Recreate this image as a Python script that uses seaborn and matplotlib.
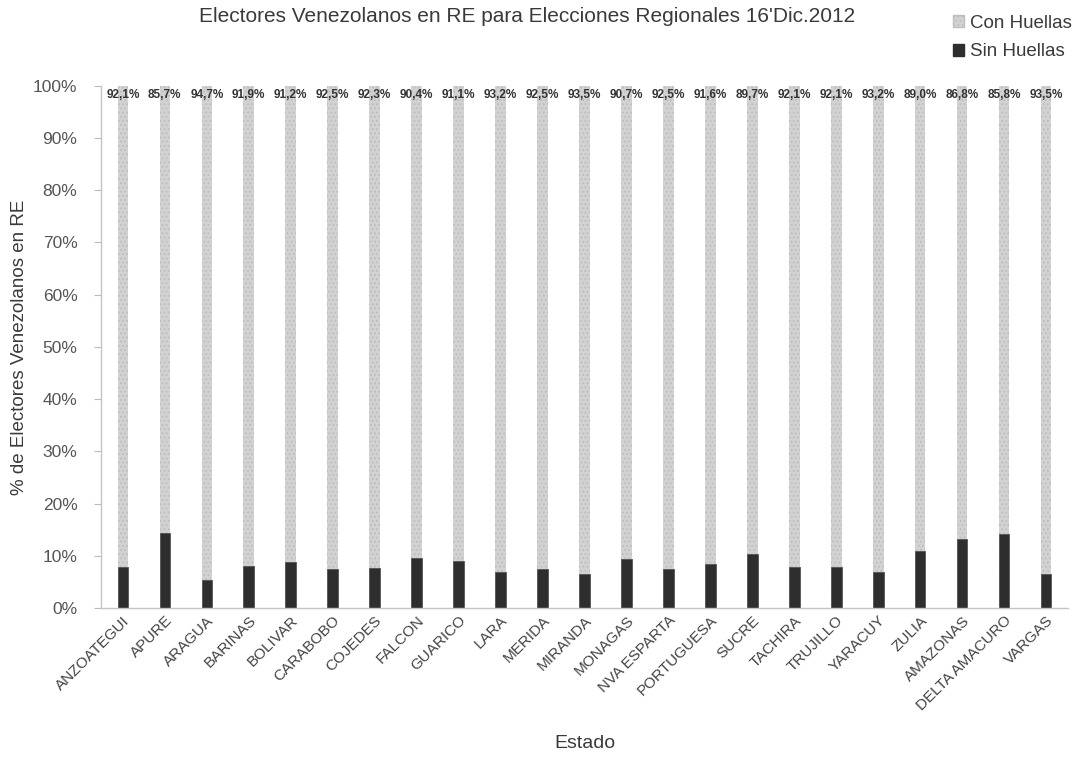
import matplotlib
matplotlib.use("Agg")
import matplotlib.pyplot as plt
import seaborn as sns
import pandas as pd
from matplotlib.patches import Patch
from matplotlib.ticker import PercentFormatter

estados = ["ANZOATEGUI", "APURE", "ARAGUA", "BARINAS", "BOLIVAR", "CARABOBO",
           "COJEDES", "FALCON", "GUARICO", "LARA", "MERIDA", "MIRANDA",
           "MONAGAS", "NVA ESPARTA", "PORTUGUESA", "SUCRE", "TACHIRA",
           "TRUJILLO", "YARACUY", "ZULIA", "AMAZONAS", "DELTA AMACURO", "VARGAS"]
con_huellas = [92.1, 85.7, 94.7, 91.9, 91.2, 92.5, 92.3, 90.4, 91.1, 93.2, 92.5, 93.5,
               90.7, 92.5, 91.6, 89.7, 92.1, 92.1, 93.2, 89.0, 86.8, 85.8, 93.5]
sin_huellas = [7.9, 14.3, 5.3, 8.1, 8.8, 7.5, 7.7, 9.6, 8.9, 6.8, 7.5, 6.5,
               9.3, 7.5, 8.4, 10.3, 7.9, 7.9, 6.8, 11.0, 13.2, 14.2, 6.5]

df = pd.DataFrame({"Estado": estados, "Con": con_huellas, "Sin": sin_huellas})
df["Total"] = df["Con"] + df["Sin"]

sns.set_style("white")
plt.rcParams["font.family"] = ["Liberation Sans", "DejaVu Sans"]
plt.rcParams["hatch.linewidth"] = 0.8

light = "#d2d2d2"
dark = "#2e2e2e"
txt = "#3a3a3a"

fig = plt.figure(figsize=(10.78, 7.59), dpi=100)
ax = fig.add_axes([0.0937, 0.199, 0.897, 0.688])

sns.barplot(data=df, x="Estado", y="Total", color=light, width=0.25,
            saturation=1, edgecolor="#bdbdbd", linewidth=0, hatch="....", ax=ax)
sns.barplot(data=df, x="Estado", y="Sin", color=dark, width=0.25,
            saturation=1, edgecolor="#555555", linewidth=0.6, ax=ax)

for i, v in enumerate(con_huellas):
    ax.text(i, 98.2, f"{v:.1f}%".replace(".", ","), ha="center", va="center",
            fontsize=8.5, fontweight="bold", color="#333333")

ax.set_ylim(0, 100)
ax.set_xlim(-0.52, len(estados) - 0.48)
ax.set_yticks(range(0, 101, 10))
ax.yaxis.set_major_formatter(PercentFormatter(decimals=0))
ax.tick_params(axis="y", labelsize=12.5, labelcolor="#555555", length=5,
               color="#bbbbbb", left=True, pad=12)
ax.tick_params(axis="x", labelsize=11, labelcolor="#444444", length=0, pad=4)
plt.setp(ax.get_xticklabels(), rotation=45, ha="right", rotation_mode="anchor")

for s in ["top", "right"]:
    ax.spines[s].set_visible(False)
for s in ["left", "bottom"]:
    ax.spines[s].set_color("#c4c4c4")
    ax.spines[s].set_linewidth(1)

ax.set_xlabel("Estado", fontsize=14, color=txt)
ax.xaxis.label.set_va("center")
ax.xaxis.set_label_coords(0.5, (16 / 759 - 0.199) / 0.688)
ax.set_ylabel("% de Electores Venezolanos en RE", fontsize=13.5, color=txt)
ax.yaxis.set_label_coords(-0.075, 0.5)

fig.text(0.489, 0.978, "Electores Venezolanos en RE para Elecciones Regionales 16'Dic.2012",
         ha="center", va="center", fontsize=15, color=txt)

handles = [Patch(facecolor=light, edgecolor="#bdbdbd", hatch="...."),
           Patch(facecolor=dark, edgecolor=dark)]
fig.legend(handles, ["Con Huellas", "Sin Huellas"], loc="upper right",
           bbox_to_anchor=(1.008, 1.0), frameon=False, fontsize=13.5,
           borderpad=0.3, handlelength=0.6, handleheight=0.6, handletextpad=0.3,
           labelspacing=0.6, labelcolor=txt)

fig.savefig("out.png", dpi=100)
